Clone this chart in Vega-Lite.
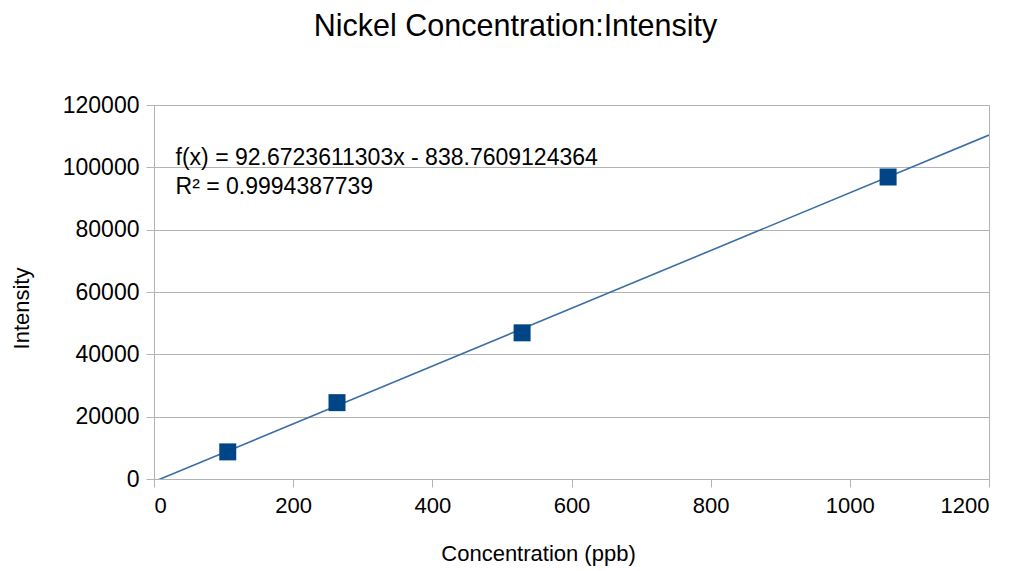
{
  "$schema": "https://vega.github.io/schema/vega-lite/v6.json",
  "autosize": {"type": "none"},
  "width": 835,
  "height": 374,
  "padding": {"left": 154, "top": 105, "right": 29, "bottom": 92},
  "background": "white",
  "config": {
    "font": "Liberation Sans",
    "view": {"stroke": "#b3b3b3", "strokeWidth": 1}
  },
  "title": {
    "text": "Nickel Concentration:Intensity",
    "font": "Liberation Sans",
    "fontSize": 30.5,
    "fontWeight": "normal",
    "color": "#000000",
    "anchor": "middle",
    "dx": -56,
    "offset": 52
  },
  "datasets": {
    "points": [
      {"conc": 106, "intensity": 8700},
      {"conc": 263, "intensity": 24500},
      {"conc": 529, "intensity": 46900},
      {"conc": 1055, "intensity": 96900}
    ],
    "trend": [
      {"conc": 0, "intensity": -838.76},
      {"conc": 1200, "intensity": 110368.07}
    ],
    "labels": [
      {"conc": 31, "intensity": 103000, "label": "f(x) = 92.6723611303x - 838.7609124364"},
      {"conc": 31, "intensity": 93700, "label": "R² = 0.9994387739"}
    ]
  },
  "encoding": {},
  "layer": [
    {
      "data": {"name": "trend"},
      "mark": {"type": "line", "color": "#3a6ea5", "strokeWidth": 1.6, "clip": true},
      "encoding": {
        "x": {
          "field": "conc", "type": "quantitative",
          "scale": {"domain": [0, 1200], "nice": false},
          "axis": {
            "title": "Concentration (ppb)",
            "values": [0, 200, 400, 600, 800, 1000, 1200],
            "format": "d",
            "grid": false,
            "domainColor": "#b3b3b3",
            "tickColor": "#b3b3b3",
            "tickSize": 8,
            "labelFont": "Liberation Sans",
            "labelFontSize": 22,
            "labelColor": "#000000",
            "labelPadding": 8,
            "titleFont": "Liberation Sans",
            "titleFontSize": 22,
            "titleFontWeight": "normal",
            "titleColor": "#000000",
            "titlePadding": 27,
            "titleX": 384
          }
        },
        "y": {
          "field": "intensity", "type": "quantitative",
          "scale": {"domain": [0, 120000], "nice": false},
          "axis": {
            "title": "Intensity",
            "values": [0, 20000, 40000, 60000, 80000, 100000, 120000],
            "format": "d",
            "grid": true,
            "gridColor": "#b3b3b3",
            "gridWidth": 1,
            "domainColor": "#b3b3b3",
            "tickColor": "#b3b3b3",
            "tickSize": 8,
            "labelFont": "Liberation Sans",
            "labelFontSize": 23,
            "labelColor": "#000000",
            "labelPadding": 7,
            "titleFont": "Liberation Sans",
            "titleFontSize": 22,
            "titleFontWeight": "normal",
            "titleColor": "#000000",
            "titlePadding": 29,
            "titleY": 203
          }
        }
      }
    },
    {
      "data": {"name": "points"},
      "mark": {"type": "point", "shape": "square", "filled": true, "size": 289, "color": "#004586", "opacity": 1},
      "encoding": {
        "x": {"field": "conc", "type": "quantitative"},
        "y": {"field": "intensity", "type": "quantitative"}
      }
    },
    {
      "data": {"name": "labels"},
      "mark": {"type": "text", "align": "left", "baseline": "middle", "font": "Liberation Sans", "fontSize": 23, "color": "#000000"},
      "encoding": {
        "x": {"field": "conc", "type": "quantitative"},
        "y": {"field": "intensity", "type": "quantitative"},
        "text": {"field": "label"}
      }
    }
  ]
}
